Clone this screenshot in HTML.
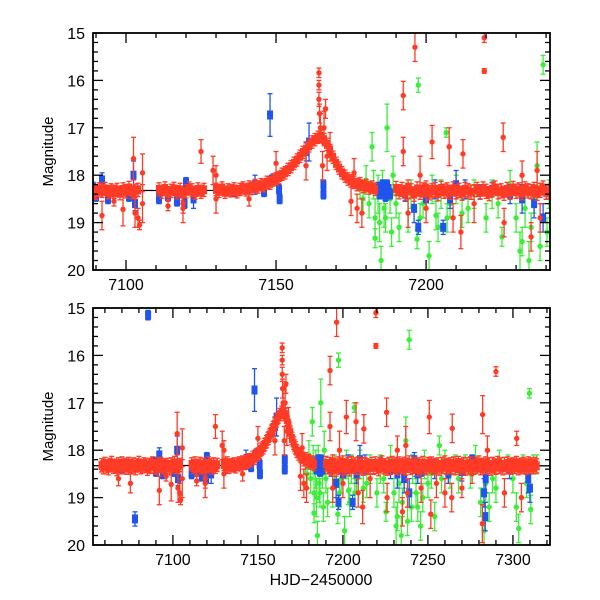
<!DOCTYPE html>
<html><head><meta charset="utf-8"><style>
html,body{margin:0;padding:0;background:#fff;}
svg{display:block;font-family:"Liberation Sans",sans-serif;}
</style></head><body>
<svg id="chart" width="600" height="600" viewBox="0 0 600 600"></svg>
<script>
// ---- data (HJD-2450000, magnitude, error) ----
const redSegStart=[7058,7111,7130,7190,7217];
const redSegErr=[0.14,0.14,0.13,0.15,0.15];
const redSegMags=[
[18.32,18.36,18.29,18.34,18.38,18.31,18.27,18.35,18.33,18.40,18.30,18.36,18.28,18.34,18.31,18.37,18.29,18.33,18.35,18.30,18.38,18.32,18.27,18.36,18.34,18.30,18.33,18.39,18.31,18.35,18.28,18.34,18.37,18.30,18.33,18.29,18.36,18.32,18.35,18.31,18.38,18.30,18.34,18.27,18.36,18.33,18.31],
[18.30,18.35,18.28,18.38,18.33,18.29,18.36,18.31,18.40,18.34,18.28,18.32,18.37,18.30,18.35,18.31],
[18.30,18.34,18.27,18.36,18.31,18.33,18.29,18.35,18.30,18.27,18.31,18.25,18.28,18.22,18.25,18.20,18.22,18.15,18.17,18.10,18.08,18.05,17.98,17.95,17.88,17.82,17.75,17.68,17.60,17.52,17.45,17.38,17.30,17.25,17.20,17.18,17.25,17.35,17.48,17.62,17.75,17.85,17.95,18.02,18.08,18.12,18.15,18.20,18.18,18.24,18.22,18.27,18.25,18.30],
[18.28,18.35,18.30,18.38,18.25,18.33,18.40,18.29,18.36,18.31,18.27,18.37,18.33,18.30,18.39,18.28,18.34,18.31,18.36,18.29,18.35,18.32,18.38,18.30,18.33,18.36],
[18.30,18.36,18.29,18.34,18.39,18.31,18.27,18.35,18.33,18.38,18.30,18.36,18.28,18.34,18.31,18.37,18.29,18.33,18.35,18.30,18.38,18.32,18.27,18.36,18.34,18.30,18.33,18.39,18.31,18.35,18.28,18.34,18.37,18.30,18.33,18.29,18.36,18.32,18.35,18.31,18.38,18.30,18.34,18.27,18.36,18.33,18.31,18.35,18.29,18.37,18.32,18.28,18.36,18.33,18.30,18.38,18.31,18.35,18.29,18.34,18.36,18.30,18.33,18.27,18.37,18.32,18.35,18.29,18.34,18.31,18.38,18.30,18.33,18.36,18.28,18.34,18.31,18.37,18.30,18.35,18.29,18.33,18.36,18.31,18.34,18.28,18.37,18.32,18.35,18.30,18.33,18.36,18.29,18.34,18.31,18.35,18.30,18.33]
];
const redOut=[[7092,18.85,.3],[7096,18.55,.1],[7099,18.72,.35],[7102.5,17.65,.45],[7103,18.8,.3],[7104,18.9,.2],[7104.5,19.05,.1],[7105.5,17.95,.4],[7105.5,18.6,.4],[7075,18.7,.2],[7068,18.6,.15],
[7114,18.65,.1],[7119,18.6,.2],[7119,18.7,.3],[7125,17.5,.25],[7129,17.9,.3],[7130,18.0,.2],[7130,18.5,.3],[7141,18.5,.15],[7150,17.75,.25],[7160,17.8,.3],
[7164.3,15.84,.1],[7164.3,16.1,.1],[7164.3,16.4,.15],[7164.5,16.7,.2],[7164.8,17.0,.3],[7166.5,16.6,.2],[7166,17.0,.35],[7167,17.6,.3],[7165.5,17.8,.3],[7168,17.4,.3],[7176,17.95,.3],[7177,18.7,.3],[7178.6,18.8,.3],[7175,18.55,.3],
[7192.4,16.32,.3],[7196.3,15.3,.3],[7219.4,15.1,.1],[7219.4,15.8,.05],[7225.7,17.2,.3],[7202,17.3,.35],[7192.4,17.5,.3],[7207.7,17.4,.4],[7212.3,17.55,.3],[7211.6,19.2,.35],[7235,19.3,.3],[7226,19.0,.3],[7194,18.8,.3],[7200,18.7,.3],[7209,18.9,.3],[7216,18.6,.4],[7232,18.0,.3],[7237,17.9,.4],[7238,18.9,.3],[7198,18.0,.4],
[7290,16.34,.1],[7250.8,17.3,.35],[7264.3,17.54,.3],[7282.2,17.25,.4],[7302.2,17.75,.15],[7282,19.55,.4],[7264,19.0,.3],[7251.7,19.35,.3],[7255,18.7,.3],[7270,18.8,.2],[7295,18.9,.3],[7305,19.0,.3],[7285,18.0,.3],[7276,18.5,.2],[7246,18.8,.3],[7260,18.9,.3]];
const greenPts=[[7178,18.3,.2],[7180,18.1,.3],[7181,18.6,.3],[7182,17.4,.3],[7183,18.9,.4],[7183,19.33,.2],[7184,18.4,.4],[7185,19.8,.3],[7185.5,18.2,.3],[7186,18.7,.4],[7187,17.0,.5],[7188,18.5,.3],[7189,18.0,.4],[7197.4,16.1,.15],[7197,19.35,.2],[7199,18.6,.3],[7203.3,18.85,.3],[7205,18.4,.3],[7206.7,17.1,.1],[7207,18.9,.3],[7210,18.3,.3],[7214,18.7,.3],[7222,18.4,.3],[7225.3,19.3,.2],[7228,18.2,.3],[7231.3,19.6,.4],[7233,18.7,.4],[7234.3,19.8,.4],[7236,18.5,.3],[7237,17.8,.5],[7239,15.67,.2],[7240.3,19.2,.3],[7241,18.4,.3],[7243,18.9,.3],[7245.7,19.6,.3],[7248,18.3,.3],[7252,18.5,.3],[7256.7,17.9,.2],[7260,18.2,.2],[7266,18.3,.2],[7272,18.3,.2],[7278,18.2,.3],[7284,18.7,.4],[7288,18.6,.3],[7292,18.2,.2],[7297,18.3,.2],[7303.4,19.65,.3],[7306,18.3,.2],[7309.7,16.8,.1],[7310.5,19.25,.3],[7312,18.3,.2],[7314,18.3,.2],[7191,19.1,.3],[7194,18.8,.4],[7201,19.7,.3],
[7179,18.5,.3],[7182.5,18.2,.3],[7184.5,19.0,.4],[7186.5,18.9,.3],[7188.5,19.2,.3],[7190,18.6,.3],[7195,18.4,.3],[7198,18.9,.3],[7202,18.3,.3],[7204,19.1,.3],[7208,18.6,.3],[7212,18.8,.3],[7216,18.4,.3],[7220,18.9,.3],[7224,18.6,.3],[7230,18.9,.3],[7232,19.4,.3],[7235,19.1,.3],[7238,19.5,.3],[7244,19.2,.3],[7247,19.0,.3],[7250,18.7,.3],[7254,19.4,.3],[7258,18.6,.3],[7263,18.5,.3],[7268,18.6,.3],[7275,18.5,.3],[7281,19.1,.3],[7283,19.7,.3],[7286,19.2,.3],[7290,18.8,.3],[7300,18.6,.3],[7302,19.2,.3],[7308,18.7,.3]];
const bluePts=[[7060,18.3,.1],[7063,18.35,.1],[7066,18.3,.1],[7070,18.4,.1],[7074,18.3,.1],[7077.7,19.45,.15],[7085.4,15.15,.1],[7089,18.25,.1],[7090,18.45,.1],[7092,18.1,.15],[7094,18.5,.1],[7097,18.35,.1],[7101,18.45,.1],[7102.5,18.0,.3],[7103,18.6,.15],[7111,18.5,.1],[7114,18.45,.1],[7117,18.55,.1],[7119.5,18.6,.1],[7120,18.15,.1],[7122.5,18.5,.2],[7131,18.3,.1],[7136,18.35,.1],[7140,18.3,.1],[7143,18.2,.2],[7146,18.35,.1],[7148,16.73,.45],[7148.5,18.1,.1],[7151.2,18.5,.1],[7151,18.3,.1],[7160,17.5,.2],[7161,17.3,.4],[7165.8,18.4,.1],[7165.8,18.2,.1],[7184,18.25,.1],[7185,18.35,.1],[7186,18.3,.1],[7187,18.2,.1],[7188,18.4,.1],[7184.5,18.4,.1],[7185.5,18.2,.1],[7186.5,18.45,.1],[7187.5,18.3,.1],[7193,18.4,.15],[7196,18.7,.3],[7197.4,19.1,.15],[7200,18.5,.2],[7203,18.3,.2],[7205.7,19.1,.15],[7208,18.5,.2],[7210,18.2,.3],[7213,18.3,.2],[7218,18.35,.15],[7222,18.3,.15],[7228,18.4,.2],[7232,18.5,.3],[7236,18.6,.3],[7239,18.9,.3],[7241,18.35,.1],[7242,18.2,.15],[7243,18.4,.15],[7244,18.5,.2],[7245,18.3,.1],[7246,18.45,.1],[7254,18.4,.2],[7262,18.5,.2],[7270,18.45,.2],[7276,18.2,.1],[7283.7,19.4,.3],[7283,18.9,.3],[7284,18.6,.3],[7298,18.4,.2],[7309,18.6,.3],[7310,18.8,.3]];
const modelT=[7040,7130,7140,7145,7150,7155,7158,7161,7163,7165,7167,7169,7171,7174,7178,7185,7200,7330];
const modelM=[18.33,18.32,18.28,18.22,18.1,17.85,17.65,17.4,17.25,17.18,17.3,17.55,17.8,18.05,18.2,18.28,18.32,18.33];
const xTicksTop=[7100,7150,7200];
const xTicksBot=[7100,7150,7200,7250,7300];
const yTicks=[15,16,17,18,19,20];

const NS="http://www.w3.org/2000/svg";
const svg=document.getElementById('chart');
function mk(tag,attrs,parent){const e=document.createElementNS(NS,tag);for(const k in attrs)e.setAttribute(k,attrs[k]);(parent||svg).appendChild(e);return e;}
const panels=[
 {name:'top',x0:93,x1:550,y0:33,y1:270,d0:7089,d1:7241.3,ticks:xTicksTop},
 {name:'bottom',x0:93,x1:550,y0:308,y1:545,d0:7053,d1:7321.8,ticks:xTicksBot}
];
const cols={red:'#ff3b26',blue:'#1f55ee',green:'#3ded3a'};
panels.forEach((p,pi)=>{
 const sx=d=>p.x0+(d-p.d0)/(p.d1-p.d0)*(p.x1-p.x0);
 const sy=m=>p.y0+(m-15)/5*(p.y1-p.y0);
 const cid='clip'+pi;
 const defs=mk('defs',{});
 const cp=mk('clipPath',{id:cid},defs);
 mk('rect',{x:p.x0,y:p.y0,width:p.x1-p.x0,height:p.y1-p.y0},cp);
 const g=mk('g',{'clip-path':'url(#'+cid+')'});
 
 
 const pts=modelT.map((t,i)=>sx(t)+','+sy(modelM[i])).join(' ');
 const ml=mk('polyline',{points:pts,fill:'none',stroke:'#000','stroke-width':1.3},g);
 
 
 function pt(t,m,e,c,grp,sq){
  const x=sx(t),y=sy(m),ya=sy(m-e),yb=sy(m+e);
  mk('line',{x1:x,x2:x,y1:ya,y2:yb,stroke:c,'stroke-width':1.3},grp);
  mk('line',{x1:x-2.5,x2:x+2.5,y1:ya,y2:ya,stroke:c,'stroke-width':1.3},grp);
  mk('line',{x1:x-2.5,x2:x+2.5,y1:yb,y2:yb,stroke:c,'stroke-width':1.3},grp);
  if(sq)mk('rect',{x:x-3,y:y-4.5,width:6,height:9,fill:c},grp);
  else mk('circle',{cx:x,cy:y,r:2.7,fill:c},grp);
 }
 const gg=mk('g',{},g);
 
 
 greenPts.forEach(d=>pt(d[0],d[1],d[2],cols.green,gg,false));
 const gb=mk('g',{},g);
 
 
 bluePts.forEach(d=>pt(d[0],d[1],d[2],cols.blue,gb,true));
 const gr=mk('g',{},g);
 
 
 redSegMags.forEach((arr,si)=>arr.forEach((m,i)=>pt(redSegStart[si]+i,m,redSegErr[si],cols.red,gr,true)));
 redOut.forEach(d=>pt(d[0],d[1],d[2],cols.red,gr,false));
 const fr=mk('rect',{x:p.x0,y:p.y0,width:p.x1-p.x0,height:p.y1-p.y0,fill:'none',stroke:'#000','stroke-width':1.8});
 
 
 for(let d=Math.ceil(p.d0/10)*10;d<=p.d1;d+=10){
  const x=sx(d),L=(d%50===0)?10:5;
  mk('line',{x1:x,x2:x,y1:p.y1,y2:p.y1-L,stroke:'#000','stroke-width':1.3});
  mk('line',{x1:x,x2:x,y1:p.y0,y2:p.y0+L,stroke:'#000','stroke-width':1.3});
 }
 p.ticks.forEach(d=>{
  const t=mk('text',{x:sx(d),y:p.y1+20,'text-anchor':'middle','font-size':16});
  t.textContent=d;
  
  
 });
 for(let m=15;m<=20.001;m+=0.2){
  const y=sy(m),L=(Math.abs(m-Math.round(m))<0.01)?10:5;
  mk('line',{x1:p.x0,x2:p.x0+L,y1:y,y2:y,stroke:'#000','stroke-width':1.3});
  mk('line',{x1:p.x1,x2:p.x1-L,y1:y,y2:y,stroke:'#000','stroke-width':1.3});
 }
 yTicks.forEach(m=>{
  const t=mk('text',{x:p.x0-8,y:sy(m)+6,'text-anchor':'end','font-size':16});
  t.textContent=m;
  
  
 });
 const yt=mk('text',{x:0,y:0,'text-anchor':'middle','font-size':15,transform:'translate(53,'+((p.y0+p.y1)/2)+') rotate(-90)'});
 yt.textContent='Magnitude';
 
 
});
const xt=mk('text',{x:321,y:585,'text-anchor':'middle','font-size':16});
xt.textContent='HJD\u22122450000';


</script>
</body></html>
